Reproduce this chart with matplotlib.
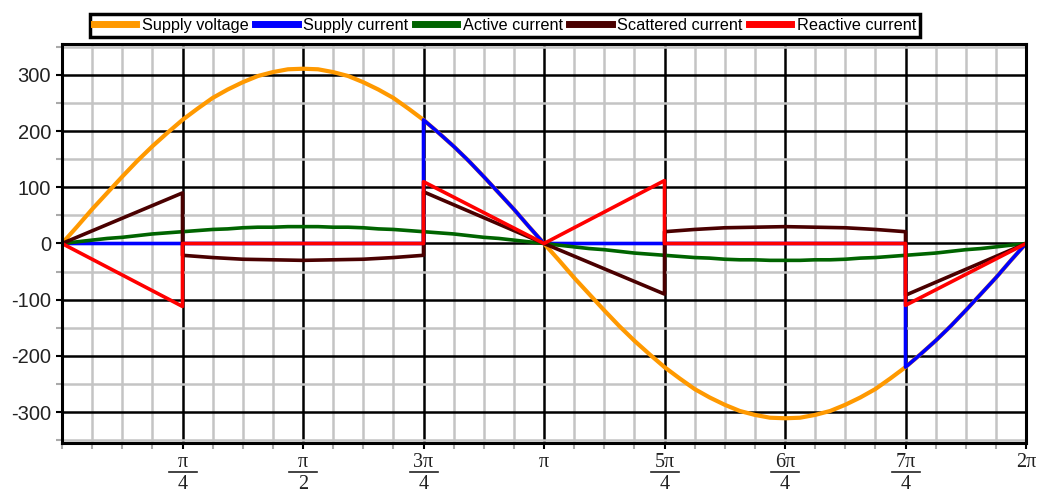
import numpy as np
import matplotlib.pyplot as plt
from matplotlib.ticker import MultipleLocator, FixedLocator
from matplotlib.lines import Line2D

plt.rcParams['font.family'] = ['Liberation Sans', 'DejaVu Sans']
plt.rcParams['axes.unicode_minus'] = False

# phase positions in units of pi/32 (0 .. 64 -> 0 .. 2pi)
phase = list(range(65))

# values
supply_voltage = [0, 30, 61, 90, 119, 147, 173, 197, 220, 240, 259, 274, 287, 298, 305, 310, 311,
                  310, 305, 298, 287, 274, 259, 240, 220, 197, 173, 147, 119, 90, 61, 30, 0,
                  -30, -61, -90, -119, -147, -173, -197, -220, -240, -259, -274, -287, -298, -305, -310, -311,
                  -310, -305, -298, -287, -274, -259, -240, -220, -197, -173, -147, -119, -90, -61, -30, 0]
active_current = [0, 3, 6, 9, 11, 14, 17, 19, 21, 23, 25, 26, 28, 29, 29, 30, 30,
                  30, 29, 29, 28, 26, 25, 23, 21, 19, 17, 14, 11, 9, 6, 3, 0,
                  -3, -6, -9, -11, -14, -17, -19, -21, -23, -25, -26, -28, -29, -29, -30, -30,
                  -30, -29, -29, -28, -26, -25, -23, -21, -19, -17, -14, -11, -9, -6, -3, 0]

supply_phase = [0, 24, 24, 25, 26, 27, 28, 29, 30, 31, 32,
                56, 56, 57, 58, 59, 60, 61, 62, 63, 64]
supply_current = [0, 0, 220, 197, 173, 147, 119, 90, 61, 30, 0,
                  0, -220, -197, -173, -147, -119, -90, -61, -30, 0]

scattered_phase = [0, 8, 8, 10, 12, 14, 16, 18, 20, 22, 24, 24, 32,
                   40, 40, 42, 44, 46, 48, 50, 52, 54, 56, 56, 64]
scattered_current = [0, 90, -21, -25, -28, -29, -30, -29, -28, -25, -21, 92, 0,
                     -90, 21, 25, 28, 29, 30, 29, 28, 25, 21, -92, 0]

reactive_phase = [0, 8, 8, 24, 24, 32, 40, 40, 56, 56, 64]
reactive_current = [0, -112, 0, 0, 110, 0, 112, 0, 0, -110, 0]

# x tick labels as (numerator, denominator); denominator None -> single line
tick_numerators = ['π', 'π', '3π', 'π', '5π', '6π', '7π', '2π']
tick_denominators = ['4', '2', '4', None, '4', '4', '4', None]


def to_rad(p):
    return np.array(p) * np.pi / 32


W, H = 1046, 494
fig = plt.figure(figsize=(W / 100, H / 100), dpi=100)
ax = fig.add_axes([62 / W, 51 / H, 964 / W, 399 / H])

ax.plot(to_rad(phase), supply_voltage, color='#FF9900', lw=3, label='Supply voltage')
ax.plot(to_rad(supply_phase), supply_current, color='#0000FF', lw=2.6, label='Supply current')
ax.plot(to_rad(phase), active_current, color='#006400', lw=2.6, label='Active current')
ax.plot(to_rad(scattered_phase), scattered_current, color='#4A0000', lw=2.6, label='Scattered current')
ax.plot(to_rad(reactive_phase), reactive_current, color='#FF0000', lw=2.6, label='Reactive current')

ax.set_xlim(0, 2 * np.pi)
ax.set_ylim(-355, 355)

xticks = np.arange(1, 9) * np.pi / 4
ax.xaxis.set_major_locator(FixedLocator(xticks))
ax.xaxis.set_minor_locator(MultipleLocator(np.pi / 16))
ax.set_xticklabels([''] * len(xticks))
ax.yaxis.set_major_locator(FixedLocator([-300, -200, -100, 0, 100, 200, 300]))
ax.yaxis.set_minor_locator(MultipleLocator(50))

ax.grid(which='minor', color='#c4c4c4', lw=1.8, zorder=0)
ax.grid(which='major', color='black', lw=1.8, zorder=0.5)
ax.set_axisbelow(True)

ax.tick_params(axis='y', which='major', labelsize=14.5, labelcolor='#222222', length=4, width=1.5, pad=4)
ax.tick_params(axis='y', which='minor', length=4, width=1.5, color='#aaaaaa')
ax.tick_params(axis='x', which='major', length=4, width=1.5)
ax.tick_params(axis='x', which='minor', length=4, width=1.5, color='#aaaaaa')

for side in ['left', 'bottom', 'right', 'top']:
    ax.spines[side].set_linewidth(2.2)
    ax.spines[side].set_color('black')

# fraction-style x labels (Times-like serif)
for xv, num, den in zip(xticks, tick_numerators, tick_denominators):
    xf = fig.transFigure.inverted().transform(ax.transData.transform((xv, 0)))[0]
    fig.text(xf, 1 - 467 / H, num, ha='center', va='baseline', fontsize=14.5,
             family='Liberation Serif', color='#222222')
    if den is not None:
        fig.text(xf, 0.3 / H, den, ha='center', va='bottom', fontsize=14.5,
                 family='Liberation Serif', color='#222222')
        fig.add_artist(Line2D([xf - 14 / W, xf + 14 / W], [1 - 471.5 / H, 1 - 471.5 / H],
                              transform=fig.transFigure, color='#222222', lw=1.2))

leg = fig.legend(loc='lower left', bbox_to_anchor=(90 / W, (H - 37) / H), ncol=5,
                 fontsize=11.7, handlelength=2.6, handletextpad=0.35, columnspacing=0.4,
                 borderpad=0.25, borderaxespad=0, fancybox=False, framealpha=1)
leg.get_frame().set_edgecolor('black')
leg.get_frame().set_linewidth(2.5)
for line in leg.get_lines():
    line.set_linewidth(5)

fig.savefig('out.png', dpi=100)
